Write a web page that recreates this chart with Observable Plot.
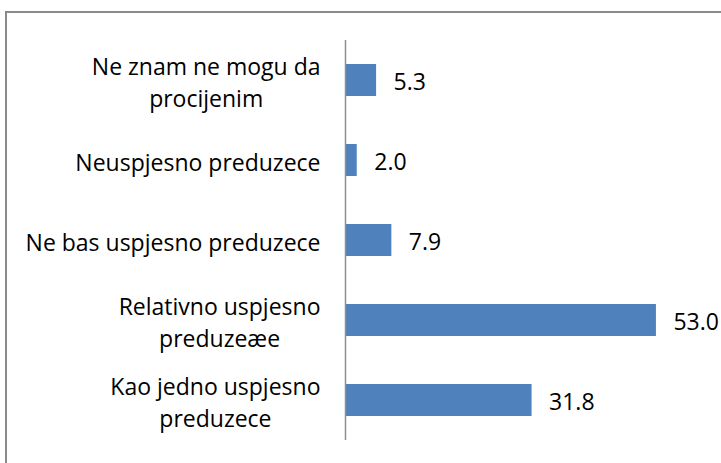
<!DOCTYPE html>
<html>
<head>
<meta charset="utf-8">
<script src="https://cdn.jsdelivr.net/npm/d3@7"></script>
<script src="https://cdn.jsdelivr.net/npm/@observablehq/plot@0.6"></script>
<style>
  html, body { margin: 0; padding: 0; background: #fff; overflow: hidden; }
  #wrap { position: relative; width: 721px; height: 463px; }
  #frame { position: absolute; left: 5px; top: 11px; width: 800px; height: 600px;
           border-left: 2px solid #8a8a8a; border-top: 2px solid #8a8a8a; box-sizing: border-box; }
  #chart { position: absolute; left: 0; top: 0; }
</style>
</head>
<body>
<div id="wrap"><div id="frame"></div><div id="chart"></div></div>
<script>
const categories = [
  "Ne znam ne mogu da\nprocijenim",
  "Neuspjesno preduzece",
  "Ne bas uspjesno preduzece",
  "Relativno uspjesno\npreduzeæe",
  "Kao jedno uspjesno\npreduzece"
];
const values = [5.3, 2.0, 7.9, 53.0, 31.8];
const valueLabels = ["5.3", "2.0", "7.9", "53.0", "31.8"];

const data = categories.map((c, i) => ({category: c, value: values[i], label: valueLabels[i]}));

const FONT = "'Open Sans', Lato, sans-serif";

const chart = Plot.plot({
  width: 721,
  height: 463,
  marginLeft: 345,
  marginRight: 24,
  marginTop: 40,
  marginBottom: 23,
  style: {fontFamily: FONT, fontSize: "23px", color: "#000", background: "transparent"},
  x: {domain: [0, 60], axis: null},
  y: {domain: categories, paddingInner: 0.6, paddingOuter: 0.3, label: null},
  marks: [
    Plot.barX(data, {x: "value", y: "category", fill: "#4F81BD"}),
    Plot.ruleX([0], {stroke: "#8e8e8e", strokeWidth: 1.5}),
    Plot.axisY({tickSize: 0, tickPadding: 25, fontSize: 23, lineHeight: 1.39, fill: "#000", label: null}),
    Plot.text(data, {x: "value", y: "category", text: "label", textAnchor: "start", dx: 17, dy: 2, fontSize: 23, fill: "#000"})
  ]
});

document.getElementById("chart").appendChild(chart);

// center multi-line labels within their block, keeping block right-aligned
chart.querySelectorAll('g[aria-label="y-axis tick label"] text').forEach(t => {
  const w = t.getBBox().width;
  t.setAttribute("text-anchor", "middle");
  const tr = t.getAttribute("transform") || "";
  t.setAttribute("transform", tr + ` translate(${-w / 2},0)`);
});
</script>
</body>
</html>
